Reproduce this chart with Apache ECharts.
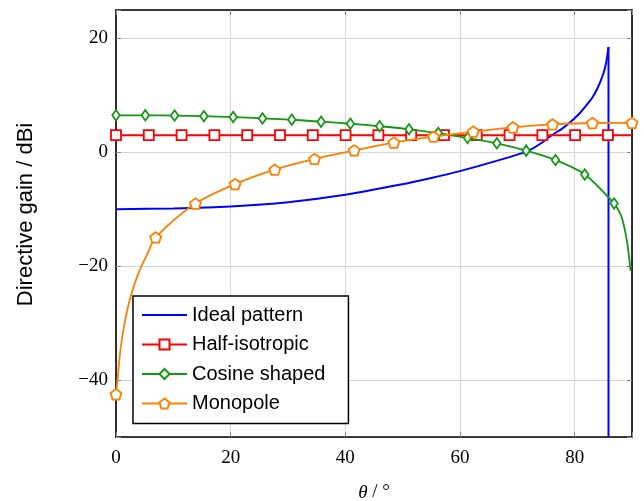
<!DOCTYPE html>
<html><head><meta charset="utf-8">
<script src="https://cdn.jsdelivr.net/npm/echarts@6/dist/echarts.min.js"></script>
<style>html,body{margin:0;padding:0;background:#fff}#c{width:644px;height:501px}</style>
</head><body><div id="c"></div>
<script>
// ---- data ----
const xTickValues = [0, 20, 40, 60, 80];
const yTickValues = [-40, -20, 0, 20];

const seriesNames = ['Ideal pattern', 'Half-isotropic', 'Cosine shaped', 'Monopole'];

// Ideal pattern (line only)
const idealTheta = [0, 10, 20, 30, 40, 50, 55, 60, 65, 70, 72, 74, 76, 78, 80, 81, 82, 83, 84, 85, 85.5, 85.9];
const idealGain  = [-10.0, -9.85, -9.5, -8.75, -7.45, -5.6, -4.5, -3.3, -1.9, -0.4, 0.3, 1.5, 3.0, 4.3, 6.0, 7.0, 8.2, 9.5, 11.3, 13.8, 15.8, 18.5];
const idealCutTheta = [85.9, 85.9];
const idealCutGain  = [18.5, -50];

// Half-isotropic (markers + line end)
const halfTheta = [0, 5.72, 11.44, 17.16, 22.88, 28.6, 34.32, 40.04, 45.76, 51.48, 57.2, 62.92, 68.64, 74.36, 80.08, 85.8];
const halfGain  = [3.01, 3.01, 3.01, 3.01, 3.01, 3.01, 3.01, 3.01, 3.01, 3.01, 3.01, 3.01, 3.01, 3.01, 3.01, 3.01];
const halfTailTheta = [90];
const halfTailGain  = [3.01];

// Cosine shaped (markers + steep tail)
const cosTheta = [0, 5.11, 10.22, 15.33, 20.44, 25.55, 30.66, 35.77, 40.88, 45.99, 51.1, 56.21, 61.32, 66.43, 71.54, 76.65, 81.76, 86.87];
const cosGain  = [6.5, 6.5, 6.45, 6.35, 6.2, 5.95, 5.72, 5.38, 5.02, 4.58, 4.05, 3.38, 2.5, 1.58, 0.3, -1.35, -3.9, -9.0];
const cosTailTheta = [88, 88.5, 89, 89.4, 89.75];
const cosTailGain  = [-10.9, -12.5, -14.9, -17.6, -20.8];

// Monopole (markers + steep head)
const monoTheta = [0, 6.92, 13.85, 20.77, 27.69, 34.62, 41.54, 48.46, 55.38, 62.31, 69.23, 76.15, 83.08, 90];
const monoGain  = [-42.5, -14.95, -9.0, -5.57, -3.05, -1.17, 0.35, 1.72, 2.75, 3.65, 4.4, 4.9, 5.15, 5.17];
const monoHeadTheta = [0.3, 0.8, 1.5, 2.5, 4.0, 5.5];
const monoHeadGain  = [-39.5, -34.5, -30.0, -25.5, -21.0, -17.8];

// ---- build ----
function pts(t, g) { return t.map((v, i) => [v, g[i]]); }
function merge(markT, markG, extraT, extraG) {
  const items = markT.map((v, i) => ({ value: [v, markG[i]] }))
    .concat(extraT.map((v, i) => ({ value: [v, extraG[i]], symbol: 'none' })));
  items.sort((a, b) => a.value[0] - b.value[0]);
  return items;
}
const pentagon = 'path://M0,-1L0.9511,-0.309L0.5878,0.809L-0.5878,0.809L-0.9511,-0.309Z';
const serif = 'Liberation Serif';
const sans = 'Liberation Sans';
const tickStyle = { show: true, inside: true, length: 5, lineStyle: { color: '#8a8a8a', width: 1 } };
const frameLine = { show: true, onZero: false, lineStyle: { color: '#000', width: 1.6 } };

const chart = echarts.init(document.getElementById('c'), null, { renderer: 'canvas' });
chart.setOption({
  animation: false,
  backgroundColor: '#fff',
  grid: { left: 116, right: 12, top: 10, bottom: 64, containLabel: false, outerBoundsMode: 'none' },
  legend: {
    data: [
      { name: seriesNames[0], icon: 'path://M0,0L45,0L45,2.2L0,2.2Z' },
      { name: seriesNames[1] }, { name: seriesNames[2] }, { name: seriesNames[3] }
    ],
    orient: 'vertical', left: 133, top: 296,
    padding: [9, 23, 10, 8], itemGap: 9.5, itemWidth: 45, itemHeight: 12.5,
    backgroundColor: '#fff', borderColor: '#000', borderWidth: 1.5, borderRadius: 0,
    textStyle: { fontFamily: sans, fontSize: 20, color: '#000', lineHeight: 20 },
    selectedMode: false
  },
  xAxis: [{
    type: 'value', min: 0, max: 90, minInterval: 20, maxInterval: 20, position: 'bottom',
    axisLine: frameLine, axisTick: tickStyle,
    axisLabel: { show: true, margin: 12, fontFamily: serif, fontSize: 19, color: '#000',
      formatter: v => xTickValues.includes(v) ? String(v) : '' },
    splitLine: { show: true, lineStyle: { color: '#d6d6d6', width: 1 } },
    name: '{i|θ} / °', nameLocation: 'middle', nameGap: 46,
    nameTextStyle: { fontFamily: serif, fontSize: 19, color: '#000', lineHeight: 19,
      rich: { i: { fontFamily: serif, fontStyle: 'italic', fontSize: 19, color: '#000', lineHeight: 19 } } }
  }, {
    type: 'value', min: 0, max: 90, minInterval: 20, maxInterval: 20, position: 'top',
    axisLine: frameLine, axisTick: tickStyle, axisLabel: { show: false }, splitLine: { show: false }
  }],
  yAxis: [{
    type: 'value', min: -50, max: 25, minInterval: 20, maxInterval: 20, position: 'left',
    axisLine: frameLine, axisTick: tickStyle,
    axisLabel: { show: true, margin: 8, fontFamily: serif, fontSize: 19, color: '#000',
      formatter: v => yTickValues.includes(v) ? (v < 0 ? '\u2212' + Math.abs(v) : String(v)) : '' },
    splitLine: { show: true, lineStyle: { color: '#d6d6d6', width: 1 } },
    name: 'Directive gain / dBi', nameLocation: 'middle', nameGap: 79, nameRotate: 90,
    nameTextStyle: { fontFamily: sans, fontSize: 22, color: '#000', padding: [0, 0, 0, 18] }
  }, {
    type: 'value', min: -50, max: 25, minInterval: 20, maxInterval: 20, position: 'right',
    axisLine: frameLine, axisTick: tickStyle, axisLabel: { show: false }, splitLine: { show: false }
  }],
  series: [
    {
      name: seriesNames[0], type: 'line', data: pts(idealTheta, idealGain),
      smooth: 0.3, symbol: 'none', clip: false,
      lineStyle: { color: '#0000ff', width: 2 }, itemStyle: { color: '#0000ff' }, z: 3
    },
    {
      name: seriesNames[0], type: 'line', data: pts(idealCutTheta, idealCutGain),
      symbol: 'none', clip: false,
      lineStyle: { color: '#0000ff', width: 2 }, itemStyle: { color: '#0000ff' }, z: 3
    },
    {
      name: seriesNames[1], type: 'line', data: merge(halfTheta, halfGain, halfTailTheta, halfTailGain),
      symbol: 'rect', symbolSize: 10, showSymbol: true, clip: false,
      lineStyle: { color: '#ff0000', width: 2 },
      itemStyle: { color: '#fff', borderColor: '#ff0000', borderWidth: 1.8 }, z: 4
    },
    {
      name: seriesNames[2], type: 'line', data: merge(cosTheta, cosGain, cosTailTheta, cosTailGain),
      smooth: 0.3, symbol: 'diamond', symbolSize: [7.5, 10.5], showSymbol: true, clip: false,
      lineStyle: { color: '#119911', width: 1.8 },
      itemStyle: { color: '#fff', borderColor: '#119911', borderWidth: 1.8 }, z: 5
    },
    {
      name: seriesNames[3], type: 'line', data: merge(monoTheta, monoGain, monoHeadTheta, monoHeadGain),
      smooth: 0.3, symbol: pentagon, symbolSize: [11, 10.5], showSymbol: true, clip: false,
      lineStyle: { color: '#ff8000', width: 1.8 },
      itemStyle: { color: '#fff', borderColor: '#ff8000', borderWidth: 1.8 }, z: 6
    }
  ]
});
</script></body></html>
